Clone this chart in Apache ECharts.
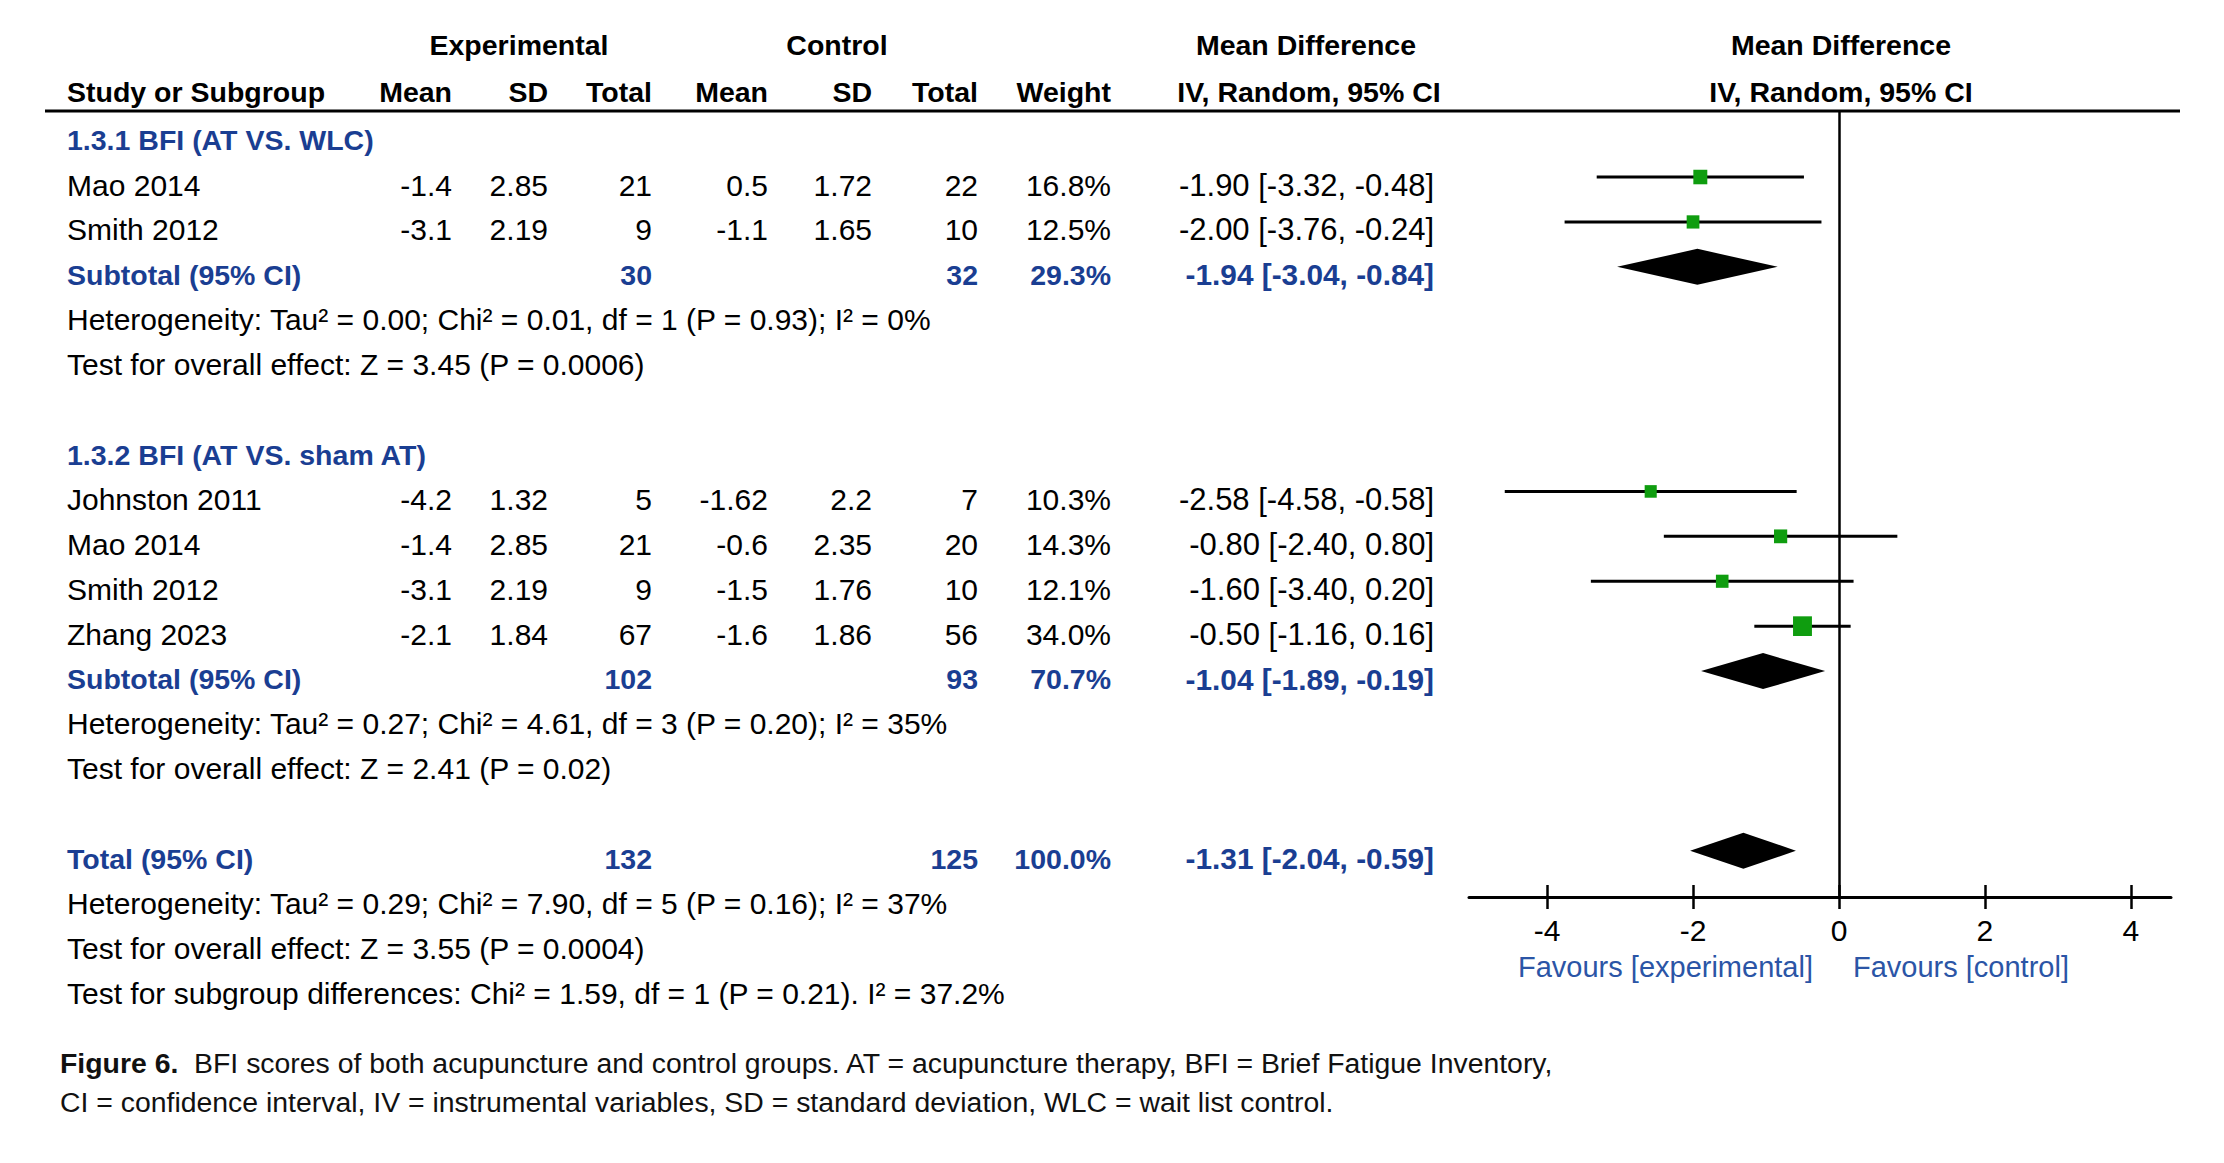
<!DOCTYPE html>
<html lang="en">
<head>
<meta charset="UTF-8">
<title>Figure 6 - BFI forest plot</title>
<style>
  html, body { margin: 0; padding: 0; background: #fff; }
  #chart { width: 2224px; height: 1163px; }
</style>
</head>
<body>
<div id="chart"></div>
<script src="https://cdn.jsdelivr.net/npm/echarts@6/dist/echarts.min.js"></script>
<script>
    // individual studies
    var studyNames = ['Mao 2014', 'Smith 2012', 'Johnston 2011', 'Mao 2014', 'Smith 2012', 'Zhang 2023'];
    var studyRow = [1, 2, 8, 9, 10, 11];
    var expMean = [-1.4, -3.1, -4.2, -1.4, -3.1, -2.1];
    var expSD = [2.85, 2.19, 1.32, 2.85, 2.19, 1.84];
    var expTotal = [21, 9, 5, 21, 9, 67];
    var ctlMean = [0.5, -1.1, -1.62, -0.6, -1.5, -1.6];
    var ctlSD = [1.72, 1.65, 2.2, 2.35, 1.76, 1.86];
    var ctlTotal = [22, 10, 7, 20, 10, 56];
    var weight = [16.8, 12.5, 10.3, 14.3, 12.1, 34.0];
    var md = [-1.90, -2.00, -2.58, -0.80, -1.60, -0.50];
    var mdLow = [-3.32, -3.76, -4.58, -2.40, -3.40, -1.16];
    var mdHigh = [-0.48, -0.24, -0.58, 0.80, 0.20, 0.16];

    // subtotals and total
    var poolNames = ['Subtotal (95% CI)', 'Subtotal (95% CI)', 'Total (95% CI)'];
    var poolRow = [3, 12, 16];
    var poolExpTotal = [30, 102, 132];
    var poolCtlTotal = [32, 93, 125];
    var poolWeight = [29.3, 70.7, 100.0];
    var poolMd = [-1.94, -1.04, -1.31];
    var poolLow = [-3.04, -1.89, -2.04];
    var poolHigh = [-0.84, -0.19, -0.59];

    // subgroup headings and notes
    var groupNames = ['1.3.1 BFI (AT VS. WLC)', '1.3.2 BFI (AT VS. sham AT)'];
    var groupRow = [0, 7];
    var notes = [
        'Heterogeneity: Tau\u00b2 = 0.00; Chi\u00b2 = 0.01, df = 1 (P = 0.93); I\u00b2 = 0%',
        'Test for overall effect: Z = 3.45 (P = 0.0006)',
        'Heterogeneity: Tau\u00b2 = 0.27; Chi\u00b2 = 4.61, df = 3 (P = 0.20); I\u00b2 = 35%',
        'Test for overall effect: Z = 2.41 (P = 0.02)',
        'Heterogeneity: Tau\u00b2 = 0.29; Chi\u00b2 = 7.90, df = 5 (P = 0.16); I\u00b2 = 37%',
        'Test for overall effect: Z = 3.55 (P = 0.0004)',
        'Test for subgroup differences: Chi\u00b2 = 1.59, df = 1 (P = 0.21). I\u00b2 = 37.2%'
    ];
    var noteRow = [4, 5, 13, 14, 17, 18, 19];

    var xTicks = [-4, -2, 0, 2, 4];

    var FONT = '"Liberation Sans", Arial, Helvetica, sans-serif';
    var FS = 30;      // plain text
    var FSB = 28.5;   // bold text
    var BLUE = '#1a3e92';
    var GREEN = '#0f9d0f';

    var chart = echarts.init(document.getElementById('chart'), null, { renderer: 'svg' });

    var studyData = md.map(function (v, i) {
        return [v, mdLow[i], mdHigh[i], studyRow[i], weight[i]];
    });
    var poolData = poolMd.map(function (v, i) {
        return [v, poolLow[i], poolHigh[i], poolRow[i]];
    });

    var option = {
        animation: false,
        backgroundColor: '#fff',
        grid: { left: 1469, right: 53, top: 111, bottom: 266, outerBoundsMode: 'none' },
        xAxis: [{
            type: 'value',
            min: -5.07,
            max: 4.55,
            position: 'bottom',
            axisLine: { onZero: false, lineStyle: { color: '#000', width: 3 } },
            axisTick: { customValues: xTicks, length: 12, lineStyle: { color: '#000', width: 2.5 } },
            axisLabel: { customValues: xTicks, margin: 18, fontSize: FS, fontFamily: FONT, color: '#000' },
            splitLine: { show: false }
        }, {
            // same scale again, only for the tick halves above the axis line
            type: 'value',
            min: -5.07,
            max: 4.55,
            position: 'bottom',
            axisLine: { show: false, onZero: false },
            axisTick: { inside: true, customValues: xTicks, length: 12, lineStyle: { color: '#000', width: 2.5 } },
            axisLabel: { show: false },
            splitLine: { show: false }
        }],
        yAxis: {
            type: 'value',
            inverse: true,
            min: -0.47,
            max: 17.03,
            show: false
        },
        series: [{
            name: 'studies',
            type: 'custom',
            data: studyData,
            encode: { x: [0, 1, 2], y: 3 },
            renderItem: function (params, api) {
                var p = api.coord([api.value(0), api.value(3)]);
                var lo = api.coord([api.value(1), api.value(3)])[0];
                var hi = api.coord([api.value(2), api.value(3)])[0];
                var s = 9.5 + 0.3 * api.value(4);
                return {
                    type: 'group',
                    children: [{
                        type: 'line',
                        shape: { x1: lo, y1: p[1], x2: hi, y2: p[1] },
                        style: { stroke: '#000', lineWidth: 3 }
                    }, {
                        type: 'rect',
                        shape: { x: p[0] - s * 0.48, y: p[1] - s / 2, width: s * 0.96, height: s },
                        style: { fill: GREEN }
                    }]
                };
            },
            markLine: {
                silent: true,
                symbol: 'none',
                label: { show: false },
                lineStyle: { color: '#000', width: 2.5, type: 'solid' },
                data: [{ xAxis: 0 }]
            }
        }, {
            name: 'pooled',
            type: 'custom',
            data: poolData,
            encode: { x: [0, 1, 2], y: 3 },
            renderItem: function (params, api) {
                var p = api.coord([api.value(0), api.value(3)]);
                var lo = api.coord([api.value(1), api.value(3)])[0];
                var hi = api.coord([api.value(2), api.value(3)])[0];
                var h = 18;
                return {
                    type: 'polygon',
                    shape: { points: [[lo, p[1]], [p[0], p[1] - h], [hi, p[1]], [p[0], p[1] + h]] },
                    style: { fill: '#000' }
                };
            }
        }]
    };

    chart.setOption(option);

    // table text, placed on the same row scale as the plot
    var TEXT_DY = 8;
    function rowY(r) {
        return chart.convertToPixel({ yAxisIndex: 0 }, r) + TEXT_DY;
    }
    function txt(s, x, y, align, color, bold, size) {
        return {
            type: 'text',
            x: x,
            y: y,
            silent: true,
            style: {
                text: s,
                fill: color || '#000',
                fontSize: size || (bold ? FSB : FS),
                fontFamily: FONT,
                fontWeight: bold ? 'bold' : 'normal',
                align: align || 'left',
                verticalAlign: 'middle'
            }
        };
    }
    function ciText(m, lo, hi) {
        return m.toFixed(2) + ' [' + lo.toFixed(2) + ', ' + hi.toFixed(2) + ']';
    }

    var colLeft = 67;
    var colRight = [452, 548, 652, 768, 872, 978, 1111, 1434];
    var g = [];

    // header
    g.push(txt('Experimental', 519, 45, 'center', '#000', true));
    g.push(txt('Control', 837, 45, 'center', '#000', true));
    g.push(txt('Mean Difference', 1306, 45, 'center', '#000', true));
    g.push(txt('Mean Difference', 1841, 45, 'center', '#000', true));
    g.push(txt('Study or Subgroup', colLeft, 92, 'left', '#000', true));
    ['Mean', 'SD', 'Total', 'Mean', 'SD', 'Total', 'Weight'].forEach(function (h, i) {
        g.push(txt(h, colRight[i], 92, 'right', '#000', true));
    });
    g.push(txt('IV, Random, 95% CI', 1309, 92, 'center', '#000', true));
    g.push(txt('IV, Random, 95% CI', 1841, 92, 'center', '#000', true));
    g.push({
        type: 'line',
        silent: true,
        shape: { x1: 45, y1: 111, x2: 2180, y2: 111 },
        style: { stroke: '#000', lineWidth: 3 }
    });

    groupNames.forEach(function (n, i) {
        g.push(txt(n, colLeft, rowY(groupRow[i]), 'left', BLUE, true));
    });

    studyNames.forEach(function (n, i) {
        var y = rowY(studyRow[i]);
        var cells = [expMean[i], expSD[i], expTotal[i], ctlMean[i], ctlSD[i], ctlTotal[i],
            weight[i].toFixed(1) + '%'];
        g.push(txt(n, colLeft, y));
        cells.forEach(function (c, k) {
            g.push(txt(String(c), colRight[k], y, 'right'));
        });
        g.push(txt(ciText(md[i], mdLow[i], mdHigh[i]), colRight[7], y, 'right', '#000', false, 31));
    });

    poolNames.forEach(function (n, i) {
        var y = rowY(poolRow[i]);
        g.push(txt(n, colLeft, y, 'left', BLUE, true));
        g.push(txt(String(poolExpTotal[i]), colRight[2], y, 'right', BLUE, true));
        g.push(txt(String(poolCtlTotal[i]), colRight[5], y, 'right', BLUE, true));
        g.push(txt(poolWeight[i].toFixed(1) + '%', colRight[6], y, 'right', BLUE, true));
        g.push(txt(ciText(poolMd[i], poolLow[i], poolHigh[i]), colRight[7], y, 'right', BLUE, true, 29.8));
    });

    notes.forEach(function (n, i) {
        g.push(txt(n, colLeft, rowY(noteRow[i])));
    });

    // axis captions
    var x0 = chart.convertToPixel({ xAxisIndex: 0 }, 0);
    g.push(txt('Favours [experimental]', x0 - 26, 967, 'right', '#2b55a6', false, 29));
    g.push(txt('Favours [control]', x0 + 14, 967, 'left', '#2b55a6', false, 29));

    // figure legend
    g.push({
        type: 'text', x: 60, y: 1063, silent: true,
        style: {
            text: '{b|Figure 6.}  BFI scores of both acupuncture and control groups. AT = acupuncture therapy, BFI = Brief Fatigue Inventory,',
            fill: '#111', fontSize: 28.4, fontFamily: FONT, verticalAlign: 'middle',
            rich: { b: { fontWeight: 'bold', fontSize: 28.4, fontFamily: FONT, fill: '#111' } }
        }
    });
    g.push({
        type: 'text', x: 60, y: 1102, silent: true,
        style: {
            text: 'CI = confidence interval, IV = instrumental variables, SD = standard deviation, WLC = wait list control.',
            fill: '#111', fontSize: 28.4, fontFamily: FONT, verticalAlign: 'middle'
        }
    });

    chart.setOption({ graphic: g });
    window.onresize = chart.resize;
</script>
</body>
</html>
